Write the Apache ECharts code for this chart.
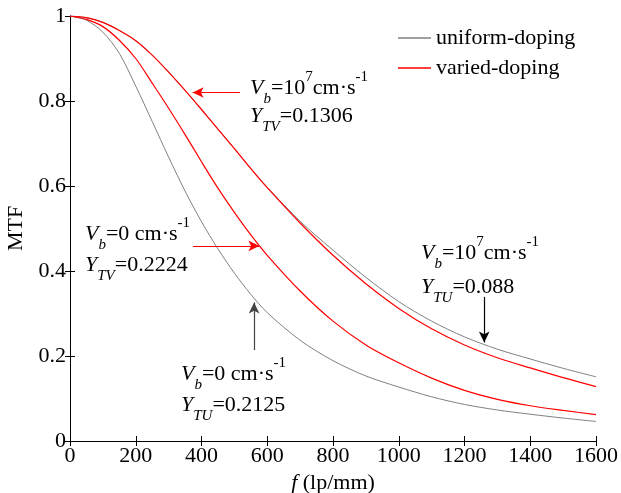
<!DOCTYPE html>
<html><head><meta charset="utf-8">
<script src="https://cdn.jsdelivr.net/npm/echarts@6/dist/echarts.min.js"></script>
<style>html,body{margin:0;padding:0;background:#fff}#c{width:621px;height:493px}</style>
</head><body><div id="c"></div>
<script>
// spatial frequency (lp/mm)
const freq = [0,50,100,150,200,250,300,350,400,450,500,550,600,700,800,900,1000,1100,1200,1300,1400,1500,1600];
// MTF values
const uniformVb0 = [1,0.99,0.962,0.912,0.835,0.752,0.668,0.588,0.516,0.452,0.395,0.345,0.302,0.237,0.189,0.153,0.127,0.104,0.086,0.073,0.063,0.054,0.046];
const variedVb0  = [1,0.992,0.975,0.943,0.900,0.842,0.783,0.721,0.657,0.595,0.538,0.485,0.437,0.353,0.282,0.226,0.184,0.148,0.119,0.098,0.083,0.072,0.062];
const uniformVb7 = [1,0.996,0.985,0.966,0.942,0.908,0.868,0.825,0.780,0.734,0.688,0.641,0.597,0.517,0.449,0.385,0.328,0.282,0.245,0.216,0.193,0.171,0.151];
const variedVb7  = [1,0.996,0.985,0.966,0.942,0.908,0.868,0.825,0.780,0.734,0.688,0.641,0.596,0.513,0.437,0.370,0.312,0.264,0.226,0.196,0.172,0.149,0.128];
const legendNames = ['uniform-doping','varied-doping'];
const xTickRange = {min:0, max:1600, interval:200};
const yTickRange = {min:0, max:1, interval:0.2};
// annotation arrows [from, to] in data coordinates
const arrowTV7 = [[517,0.82],[373,0.82]];
const arrowTV0 = [[374,0.459],[576,0.459]];
const arrowTU0 = [[560,0.214],[560,0.326]];
const arrowTU7 = [[1260,0.339],[1260,0.232]];

const FONT = "'Liberation Serif', 'Times New Roman', 'DejaVu Serif', serif";
const GRAY = '#808080', RED = '#ff0000';
const pairs = ys => freq.map((f,i)=>[f, ys[i]]);
const rich = {
  n:{fontFamily:FONT,fontSize:22,color:'#000',lineHeight:37},
  i:{fontFamily:FONT,fontSize:22,fontStyle:'italic',color:'#000',lineHeight:37},
  sub:{fontFamily:FONT,fontSize:15,fontStyle:'italic',color:'#000',lineHeight:15,verticalAlign:'bottom'},
  sup:{fontFamily:FONT,fontSize:15,color:'#000',lineHeight:15,verticalAlign:'top'}
};
function txt(x,y,t){return {type:'text',x:x,y:y,z:100,style:{text:t,rich:rich,verticalAlign:'middle',align:'left',fontFamily:FONT,fontSize:22}};}
function arrowLine(seg,color){return {silent:true,animation:false,symbol:['none','arrow'],symbolSize:[8,11],label:{show:false},
  lineStyle:{color:color,width:1.2,type:'solid'},data:[[{coord:seg[0]},{coord:seg[1]}]]};}
const plain = v => String(v);

const axisCommon = {axisLine:{show:true,lineStyle:{color:'#000',width:1}},axisTick:{show:true,inside:true,length:5,lineStyle:{color:'#000'}},splitLine:{show:false}};
const chart = echarts.init(document.getElementById('c'));
chart.setOption({
  animation:false,
  backgroundColor:'#fff',
  grid:{left:70,right:25,top:16,bottom:52,containLabel:false,outerBoundsMode:'none'},
  xAxis:[
    Object.assign({type:'value',position:'bottom',name:'{i|f} (lp/mm)',nameLocation:'middle',nameGap:31,
      nameTextStyle:{fontFamily:FONT,fontSize:22,color:'#000',rich:{i:{fontFamily:FONT,fontSize:22,fontStyle:'italic',color:'#000'}}},
      axisLabel:{fontFamily:FONT,fontSize:22,color:'#000',margin:4,formatter:plain}}, xTickRange, axisCommon),
    Object.assign({type:'value',position:'top',axisLabel:{show:false}}, xTickRange, axisCommon)
  ],
  yAxis:[
    Object.assign({type:'value',position:'left',name:'MTF',nameLocation:'middle',nameGap:38,nameRotate:90,
      nameTextStyle:{fontFamily:FONT,fontSize:22,color:'#000'},
      axisLabel:{fontFamily:FONT,fontSize:22,color:'#000',margin:4,formatter:plain}}, yTickRange, axisCommon),
    Object.assign({type:'value',position:'right',axisLabel:{show:false}}, yTickRange, axisCommon)
  ],
  legend:{orient:'vertical',left:398,top:27,padding:0,itemWidth:33,itemHeight:1.5,icon:'rect',itemGap:8,
    textStyle:{fontFamily:FONT,fontSize:22,color:'#000'},data:legendNames},
  series:[
    {name:legendNames[0],type:'line',smooth:0.3,showSymbol:false,data:pairs(uniformVb0),lineStyle:{color:GRAY,width:1},itemStyle:{color:GRAY},
      markLine:arrowLine(arrowTU0,'#444')},
    {name:legendNames[0],type:'line',smooth:0.3,showSymbol:false,data:pairs(uniformVb7),lineStyle:{color:GRAY,width:1},itemStyle:{color:GRAY},
      markLine:arrowLine(arrowTU7,'#000')},
    {name:legendNames[1],type:'line',smooth:0.3,showSymbol:false,data:pairs(variedVb0),lineStyle:{color:RED,width:1.2},itemStyle:{color:RED},
      markLine:arrowLine(arrowTV0,RED)},
    {name:legendNames[1],type:'line',smooth:0.3,showSymbol:false,data:pairs(variedVb7),lineStyle:{color:RED,width:1.2},itemStyle:{color:RED},
      markLine:arrowLine(arrowTV7,RED)}
  ],
  graphic:[
    txt(250,88,'{i|V}{sub|b}{n|=10}{sup|7}{n|cm·s}{sup|-1}'),
    txt(250,116,'{i|Y}{sub|TV}{n|=0.1306}'),
    txt(85,234,'{i|V}{sub|b}{n|=0 cm·s}{sup|-1}'),
    txt(85,265,'{i|Y}{sub|TV}{n|=0.2224}'),
    txt(181,374,'{i|V}{sub|b}{n|=0 cm·s}{sup|-1}'),
    txt(181,405,'{i|Y}{sub|TU}{n|=0.2125}'),
    txt(421,253,'{i|V}{sub|b}{n|=10}{sup|7}{n|cm·s}{sup|-1}'),
    txt(421,287,'{i|Y}{sub|TU}{n|=0.088}')
  ]
});
</script></body></html>
